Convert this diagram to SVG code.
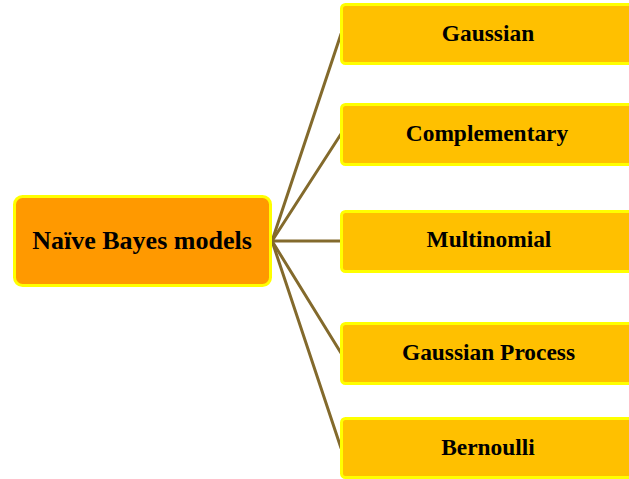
<svg xmlns="http://www.w3.org/2000/svg" width="629" height="479" viewBox="0 0 629 479">
  <style>
    .root rect { fill: #FF9900; stroke: #FFFF00; stroke-width: 3; }
    .leaf rect { fill: #FFC000; stroke: #FFFF00; stroke-width: 3; }
    text { font-family: "Liberation Serif", "Times New Roman", serif; font-weight: bold; fill: #000000; text-anchor: middle; }
    .root text { font-size: 26px; }
    .leaf text { font-size: 23.4px; }
    #connectors line { stroke: #836A2C; stroke-width: 3; stroke-linecap: round; }
  </style>
  <rect width="629" height="479" fill="#FFFFFF"/>

  <g id="connectors">
    <line x1="272" y1="241" x2="341" y2="34"/>
    <line x1="272" y1="241" x2="341" y2="134"/>
    <line x1="272" y1="241" x2="341" y2="241"/>
    <line x1="272" y1="241" x2="341" y2="353"/>
    <line x1="272" y1="241" x2="341" y2="448"/>
  </g>

  <g id="naive-bayes" class="root">
    <rect x="14.5" y="196.5" width="256" height="89" rx="8"/>
    <text x="142" y="248.5">Naïve Bayes models</text>
  </g>

  <g id="gaussian" class="leaf">
    <rect x="341.5" y="4.5" width="300" height="59" rx="4"/>
    <text x="488" y="40.5">Gaussian</text>
  </g>

  <g id="complementary" class="leaf">
    <rect x="341.5" y="104.5" width="300" height="60" rx="4"/>
    <text x="487" y="141">Complementary</text>
  </g>

  <g id="multinomial" class="leaf">
    <rect x="341.5" y="211.5" width="300" height="60" rx="4"/>
    <text x="489" y="247">Multinomial</text>
  </g>

  <g id="gaussian-process" class="leaf">
    <rect x="341.5" y="323.5" width="300" height="60" rx="4"/>
    <text x="488.5" y="360">Gaussian Process</text>
  </g>

  <g id="bernoulli" class="leaf">
    <rect x="341.5" y="418.5" width="300" height="59" rx="4"/>
    <text x="488" y="455">Bernoulli</text>
  </g>
</svg>
